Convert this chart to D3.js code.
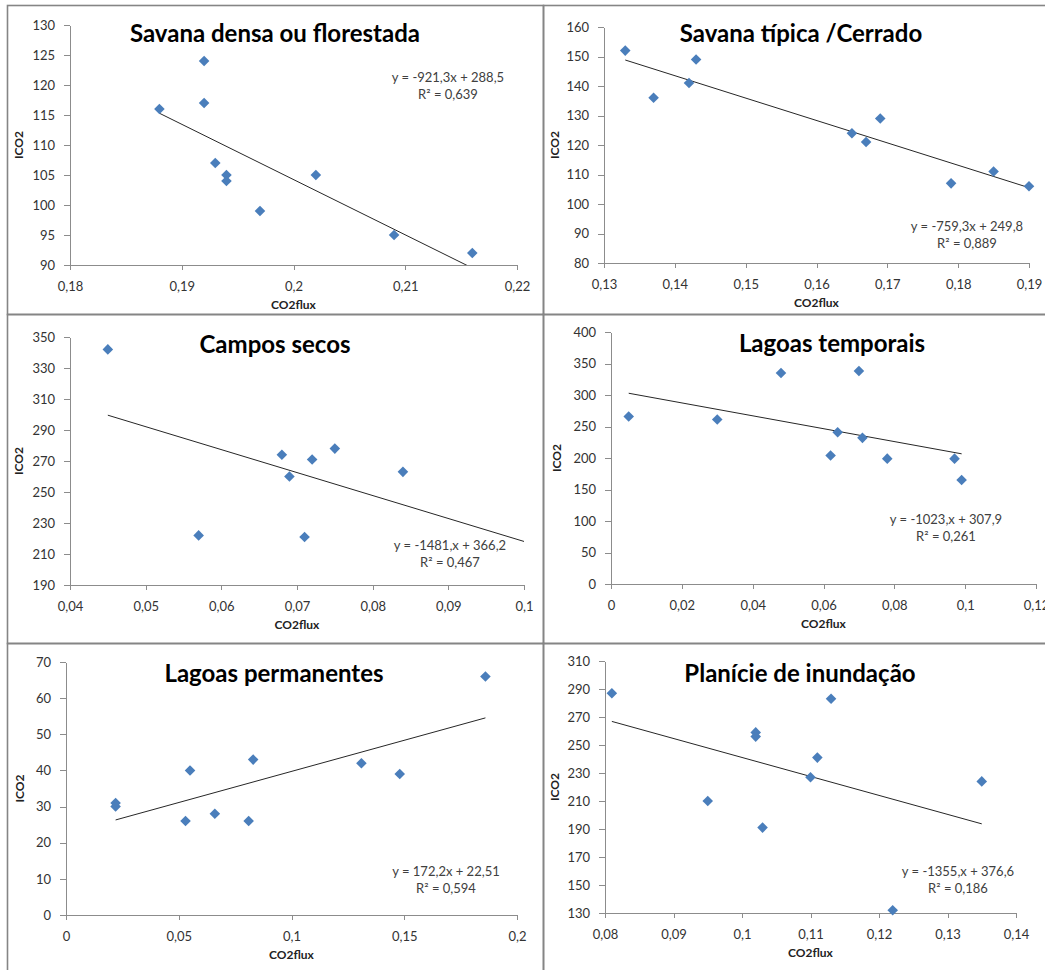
<!DOCTYPE html>
<meta charset="utf-8">
<style>
body { margin: 0; background: #fff; }
.axis path, .axis line { stroke: #8c8c8c; shape-rendering: crispEdges; }
.axis text { font: 13px Lato, sans-serif; fill: #333; }
.title { font: bold 24px Lato, sans-serif; fill: #000; }
.alabel { font: bold 12px Lato, sans-serif; fill: #222; }
.eq { font: 13px Lato, sans-serif; fill: #404040; }
.trend { stroke: #262626; stroke-width: 1; fill: none; }
.frame { stroke: #858585; fill: none; }
</style>
<body>
<script src="https://cdn.jsdelivr.net/npm/d3@7"></script>
<script>

// chart titles
var titles = ["Savana densa ou florestada", "Savana típica /Cerrado", "Campos secos",
              "Lagoas temporais", "Lagoas permanentes", "Planície de inundação"];

// CO2flux (x) and ICO2 (y) per class
var savanaDensaX = [0.188, 0.192, 0.192, 0.193, 0.194, 0.194, 0.197, 0.202, 0.209, 0.216];
var savanaDensaY = [116, 124, 117, 107, 105, 104, 99, 105, 95, 92];
var cerradoX = [0.133, 0.137, 0.142, 0.143, 0.165, 0.167, 0.169, 0.179, 0.185, 0.190];
var cerradoY = [152, 136, 141, 149, 124, 121, 129, 107, 111, 106];
var camposX = [0.045, 0.057, 0.068, 0.069, 0.071, 0.072, 0.075, 0.084];
var camposY = [342, 222, 274, 260, 221, 271, 278, 263];
var temporaisX = [0.005, 0.030, 0.048, 0.062, 0.064, 0.070, 0.071, 0.078, 0.097, 0.099];
var temporaisY = [266, 261, 335, 204, 241, 338, 232, 199, 199, 165];
var permanentesX = [0.022, 0.022, 0.053, 0.055, 0.066, 0.081, 0.083, 0.131, 0.148, 0.186];
var permanentesY = [31, 30, 26, 40, 28, 26, 43, 42, 39, 66];
var planicieX = [0.081, 0.095, 0.102, 0.102, 0.103, 0.110, 0.111, 0.113, 0.122, 0.135];
var planicieY = [287, 210, 259, 256, 191, 227, 241, 283, 132, 224];

// linear trend lines
var slopes = [-921.3, -759.3, -1481, -1023, 172.2, -1355];
var intercepts = [288.5, 249.8, 366.2, 307.9, 22.51, 376.6];
var trendRanges = [[0.188, 0.216], [0.133, 0.19], [0.045, 0.1], [0.005, 0.099], [0.022, 0.186], [0.081, 0.135]];
var eqLabels = ["y = -921,3x + 288,5", "y = -759,3x + 249,8", "y = -1481,x + 366,2",
                "y = -1023,x + 307,9", "y = 172,2x + 22,51", "y = -1355,x + 376,6"];
var r2Labels = ["R² = 0,639", "R² = 0,889", "R² = 0,467", "R² = 0,261", "R² = 0,594", "R² = 0,186"];

// tick labels
var xTicks = [[0.18, 0.19, 0.2, 0.21, 0.22],
              [0.13, 0.14, 0.15, 0.16, 0.17, 0.18, 0.19],
              [0.04, 0.05, 0.06, 0.07, 0.08, 0.09, 0.1],
              [0, 0.02, 0.04, 0.06, 0.08, 0.1, 0.12],
              [0, 0.05, 0.1, 0.15, 0.2],
              [0.08, 0.09, 0.1, 0.11, 0.12, 0.13, 0.14]];
var yTicks = [[90, 95, 100, 105, 110, 115, 120, 125, 130],
              [80, 90, 100, 110, 120, 130, 140, 150, 160],
              [190, 210, 230, 250, 270, 290, 310, 330, 350],
              [0, 50, 100, 150, 200, 250, 300, 350, 400],
              [0, 10, 20, 30, 40, 50, 60, 70],
              [130, 150, 170, 190, 210, 230, 250, 270, 290, 310]];

var xs = [savanaDensaX, cerradoX, camposX, temporaisX, permanentesX, planicieX];
var ys = [savanaDensaY, cerradoY, camposY, temporaisY, permanentesY, planicieY];

// where each panel sits on the page
var layout = [
  {l: 70,  r: 517,  t: 25,  b: 265, tx: 275, ty: 42,  ex: 448, ey: 82,  lx: 19},
  {l: 604, r: 1029, t: 27,  b: 263, tx: 801, ty: 42,  ex: 967, ey: 231, lx: 555},
  {l: 70,  r: 524,  t: 337, b: 585, tx: 275, ty: 353, ex: 450, ey: 550, lx: 19},
  {l: 611, r: 1036, t: 332, b: 584, tx: 832, ty: 352, ex: 946, ey: 524, lx: 557},
  {l: 66,  r: 517,  t: 662, b: 915, tx: 274, ty: 682, ex: 446, ey: 876, lx: 20},
  {l: 605, r: 1016, t: 661, b: 913, tx: 800, ty: 682, ex: 958, ey: 876, lx: 555}
];

var fmt = v => String(+v.toFixed(4)).replace(".", ",");

var svg = d3.select("body").append("svg")
    .attr("width", 1045)
    .attr("height", 970);

// chart frames (three rows, two columns)
var rowTop = [5, 314, 643], rowH = [309, 329, 340];
rowTop.forEach(function(top, r) {
  [[7, 536], [543, 520]].forEach(function(c) {
    svg.append("rect").attr("class", "frame")
        .attr("x", c[0] + 0.5).attr("y", top + 0.5)
        .attr("width", c[1]).attr("height", rowH[r])
        .attr("stroke-width", 1.6);
  });
});

layout.forEach(function(L, i) {
  var x = d3.scaleLinear().domain(d3.extent(xTicks[i])).range([L.l, L.r]),
      y = d3.scaleLinear().domain(d3.extent(yTicks[i])).range([L.b, L.t]);

  var g = svg.append("g");

  g.append("clipPath").attr("id", "clip" + i)
    .append("rect")
      .attr("x", L.l).attr("y", L.t)
      .attr("width", L.r - L.l).attr("height", L.b - L.t);

  // axes
  g.append("g").attr("class", "axis")
      .attr("transform", "translate(0," + L.b + ")")
      .call(d3.axisBottom(x).tickValues(xTicks[i]).tickFormat(fmt)
        .tickSize(5).tickSizeOuter(0).tickPadding(12));

  g.append("g").attr("class", "axis")
      .attr("transform", "translate(" + L.l + ",0)")
      .call(d3.axisLeft(y).tickValues(yTicks[i]).tickFormat(fmt)
        .tickSize(6).tickSizeOuter(0).tickPadding(9));

  // trend line
  var tr = trendRanges[i];
  g.append("line").attr("class", "trend")
      .attr("clip-path", "url(#clip" + i + ")")
      .attr("x1", x(tr[0])).attr("y1", y(slopes[i] * tr[0] + intercepts[i]))
      .attr("x2", x(tr[1])).attr("y2", y(slopes[i] * tr[1] + intercepts[i]));

  // points
  g.selectAll(".pt")
      .data(xs[i].map((d, k) => [d, ys[i][k]]))
    .enter().append("path")
      .attr("class", "pt")
      .attr("d", d3.symbol().type(d3.symbolSquare).size(56))
      .attr("fill", "#4a7ebb")
      .attr("transform", d => "translate(" + x(d[0]) + "," + y(d[1]) + ") rotate(45)");

  // texts
  g.append("text").attr("class", "title")
      .attr("x", L.tx).attr("y", L.ty)
      .attr("text-anchor", "middle")
      .text(titles[i]);

  g.append("text").attr("class", "eq")
      .attr("x", L.ex).attr("y", L.ey)
      .attr("text-anchor", "middle")
      .text(eqLabels[i]);

  g.append("text").attr("class", "eq")
      .attr("x", L.ex).attr("y", L.ey + 17)
      .attr("text-anchor", "middle")
      .text(r2Labels[i]);

  g.append("text").attr("class", "alabel")
      .attr("x", (L.l + L.r) / 2).attr("y", L.b + 44)
      .attr("text-anchor", "middle")
      .text("CO2flux");

  g.append("text").attr("class", "alabel")
      .attr("transform", "translate(" + (L.lx + 4) + "," + (L.t + L.b) / 2 + ") rotate(-90)")
      .attr("text-anchor", "middle")
      .text("ICO2");
});

</script>
</body>
